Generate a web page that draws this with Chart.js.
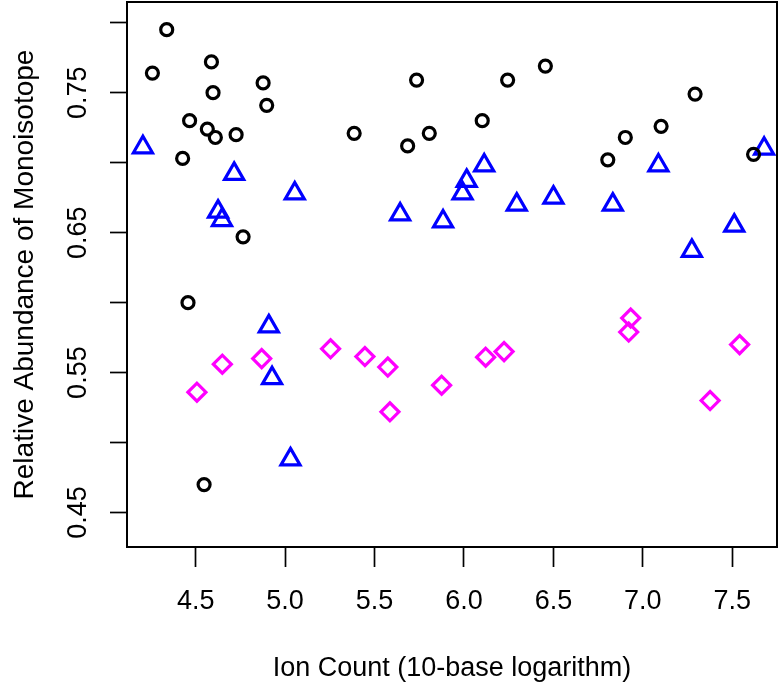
<!DOCTYPE html>
<html>
<head>
<meta charset="utf-8">
<title>Relative Abundance of Monoisotope</title>
<script src="https://cdn.jsdelivr.net/npm/chart.js@4.4.1/dist/chart.umd.min.js"></script>
<style>
    body { margin: 0; background: #fff; }
    #grafico { display: block; }
</style>
</head>
<body>
<canvas id="grafico" width="778" height="686"></canvas>
<script>
// circles (black)
let circuloX = [4.338, 4.258, 4.588, 4.597, 4.877, 4.897, 4.466, 4.565, 4.610, 4.726, 4.427, 4.765, 5.386,
    5.735, 5.806, 5.685, 6.244, 6.455, 6.102, 7.292, 7.102, 6.902, 6.804, 7.619, 4.457, 4.547];
let circuloY = [0.795, 0.764, 0.772, 0.750, 0.757, 0.741, 0.730, 0.724, 0.718, 0.720, 0.703, 0.647, 0.721,
    0.759, 0.721, 0.712, 0.759, 0.769, 0.730, 0.749, 0.726, 0.718, 0.702, 0.706, 0.600, 0.470];

// triangles (blue)
let trianguloX = [4.205, 4.715, 5.054, 4.625, 4.647, 5.643, 5.883, 7.678, 6.113, 6.015, 5.992, 6.295, 6.500,
    6.832, 7.087, 7.511, 7.274, 4.909, 4.927, 5.030];
let trianguloY = [0.711, 0.692, 0.678, 0.665, 0.659, 0.663, 0.658, 0.710, 0.698, 0.687, 0.678, 0.670, 0.675,
    0.670, 0.698, 0.655, 0.637, 0.583, 0.546, 0.488];

// diamonds (magenta)
let losangoX = [4.507, 4.649, 4.869, 5.254, 5.446, 5.574, 5.586, 5.875, 6.121, 6.224, 6.932, 6.921, 7.541, 7.376];
let losangoY = [0.536, 0.556, 0.560, 0.567, 0.5615, 0.554, 0.522, 0.541, 0.561, 0.565, 0.589, 0.579, 0.570, 0.530];

// axes
let xTicks = [4.5, 5.0, 5.5, 6.0, 6.5, 7.0, 7.5];
let yTicks = [0.45, 0.50, 0.55, 0.60, 0.65, 0.70, 0.75, 0.80];
let yLabels = [0.45, 0.55, 0.65, 0.75];
let xRange = [4.116, 7.750];
let yRange = [0.4254, 0.8148];

function pontos(xs, ys) {
    return xs.map((x, i) => ({ x: x, y: ys[i] }));
}

const familia = "'Liberation Sans', Arial, sans-serif";
const fonte = { family: familia, size: 27 };

// R style box around the plot
const caixa = {
    id: 'caixa',
    afterDraw(chart) {
        const a = chart.chartArea;
        const ctx = chart.ctx;
        ctx.save();
        ctx.strokeStyle = '#000';
        ctx.lineWidth = 2;
        ctx.strokeRect(a.left, a.top, a.right - a.left, a.bottom - a.top);
        ctx.restore();
    }
};

const ctx = document.getElementById("grafico").getContext("2d");

let grafico = new Chart(ctx, {
    type: 'scatter',
    data: {
        datasets: [
            {
                data: pontos(circuloX, circuloY),
                pointStyle: 'circle',
                pointRadius: 6,
                borderColor: '#000000',
                backgroundColor: 'rgba(0,0,0,0)',
                borderWidth: 3.2
            },
            {
                data: pontos(trianguloX, trianguloY),
                pointStyle: 'triangle',
                pointRadius: 11,
                borderColor: '#0000FF',
                backgroundColor: 'rgba(0,0,0,0)',
                borderWidth: 3.2
            },
            {
                data: pontos(losangoX, losangoY),
                pointStyle: 'rectRot',
                pointRadius: 9,
                borderColor: '#FF00FF',
                backgroundColor: 'rgba(0,0,0,0)',
                borderWidth: 3.2
            }
        ]
    },
    options: {
        responsive: false,
        animation: false,
        devicePixelRatio: 1,
        clip: false,
        layout: { autoPadding: false, padding: { top: 2, right: 1, left: 0, bottom: 0 } },
        plugins: {
            legend: { display: false },
            tooltip: { enabled: false }
        },
        scales: {
            x: {
                type: 'linear',
                min: xRange[0],
                max: xRange[1],
                bounds: 'data',
                afterBuildTicks: (s) => { s.ticks = xTicks.map(v => ({ value: v })); },
                afterFit: (s) => { s.height = 139; s.paddingLeft = 0; s.paddingRight = 0; },
                border: { display: false },
                grid: { drawOnChartArea: false, color: '#000', tickLength: 20, tickWidth: 1.7 },
                ticks: {
                    color: '#000',
                    font: fonte,
                    padding: 18,
                    maxRotation: 0,
                    autoSkip: false,
                    callback: (v) => v.toFixed(1)
                },
                title: {
                    display: true,
                    text: 'Ion Count (10-base logarithm)',
                    color: '#000',
                    font: fonte,
                    padding: { top: 0, bottom: 1 }
                }
            },
            y: {
                type: 'linear',
                min: yRange[0],
                max: yRange[1],
                bounds: 'data',
                afterBuildTicks: (s) => { s.ticks = yTicks.map(v => ({ value: v })); },
                afterFit: (s) => { s.width = 127; s.paddingTop = 0; s.paddingBottom = 0; },
                border: { display: false },
                grid: { drawOnChartArea: false, color: '#000', tickLength: 17, tickWidth: 1.7 },
                ticks: {
                    color: '#000',
                    font: fonte,
                    padding: 5,
                    minRotation: 90,
                    maxRotation: 90,
                    crossAlign: 'center',
                    autoSkip: false,
                    callback: (v) => yLabels.some(l => Math.abs(l - v) < 1e-9) ? v.toFixed(2) : ''
                },
                title: {
                    display: true,
                    text: 'Relative Abundance of Monoisotope',
                    color: '#000',
                    font: { family: familia, size: 28 },
                    padding: { top: 8, bottom: 0 }
                }
            }
        }
    },
    plugins: [caixa]
});
</script>
</body>
</html>
